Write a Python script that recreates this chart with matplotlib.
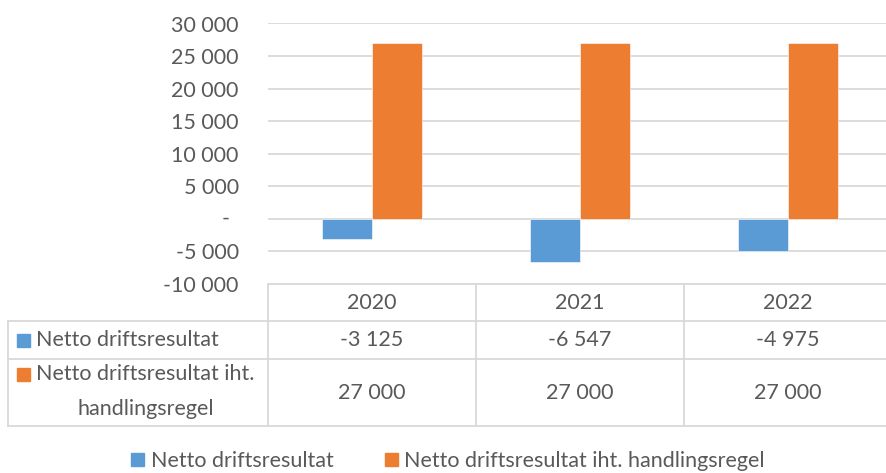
import numpy as np
import matplotlib.pyplot as plt
import matplotlib.transforms as mtransforms
from matplotlib.patches import Rectangle

years = ["2020", "2021", "2022"]
netto = [-3125, -6547, -4975]
netto_regel = [27000, 27000, 27000]
series_names = ["Netto driftsresultat", "Netto driftsresultat iht. handlingsregel"]
yticks = [-10000, -5000, 0, 5000, 10000, 15000, 20000, 25000, 30000]

BLUE = "#5B9BD5"
ORANGE = "#ED7D31"
GRID = "#D9D9D9"
TXT = "#595959"

plt.rcParams["font.family"] = ["Lato", "DejaVu Sans"]
FS = 15.5


def fmt(v):
    if v == 0:
        return "-"
    s = f"{abs(v):,}".replace(",", " ")
    return ("-" if v < 0 else "") + s


W, H = 886, 473
fig = plt.figure(figsize=(W / 100, H / 100), dpi=100)

# main plot area (pixel geometry of the original)
px_left, px_right, px_top, px_bot = 268, 892, 23.5, 284
ax = fig.add_axes([px_left / W, 1 - px_bot / H, (px_right - px_left) / W, (px_bot - px_top) / H])
x = np.arange(len(years))
bw = 0.24
ax.bar(x - bw / 2, netto, bw, color=BLUE, edgecolor="white", linewidth=0.4, zorder=3)
ax.bar(x + bw / 2, netto_regel, bw, color=ORANGE, edgecolor="white", linewidth=0.4, zorder=3)
ax.set_xlim(-0.5, 2.5)
ax.set_ylim(-10000, 30000)
ax.set_yticks(yticks)
ax.set_yticklabels([fmt(v) if v != 0 else "" for v in yticks])
ax.set_xticks([])
ax.grid(axis="y", color=GRID, linewidth=1.3, zorder=0)
ax.tick_params(axis="y", length=0, pad=21, labelsize=FS, labelcolor=TXT)
for s in ax.spines.values():
    s.set_visible(False)
# accounting-style dash for zero, set in from the other labels
zero_tr = ax.get_yaxis_transform() + mtransforms.ScaledTranslation(-38 / 100, 0, fig.dpi_scale_trans)
ax.text(0, 0, fmt(0), transform=zero_tr, ha="right", va="center", fontsize=FS, color=TXT)

# data table below
t_left = 8
tax = fig.add_axes([t_left / W, 1 - 426 / H, (px_right - t_left) / W, (426 - 284) / H])
cat_w = (px_right - px_left) / 3
x0 = -0.5 - (px_left - t_left) / cat_w
tax.set_xlim(x0, 2.5)
tax.set_ylim(142, 0)
tax.axis("off")
lk = dict(color=GRID, linewidth=1.3, clip_on=False)
tax.plot([-0.5, 2.5], [0, 0], **lk)
for xv in [-0.5, 0.5, 1.5]:
    tax.plot([xv, xv], [0, 142], **lk)
tax.plot([x0, x0], [37, 142], **lk)
for yv in [37, 75, 142]:
    tax.plot([x0, 2.5], [yv, yv], **lk)

for i, yr in enumerate(years):
    tax.text(i, 18.5, yr, ha="center", va="center", fontsize=FS, color=TXT)
    tax.text(i, 56, fmt(netto[i]), ha="center", va="center", fontsize=FS, color=TXT)
    tax.text(i, 108.5, fmt(netto_regel[i]), ha="center", va="center", fontsize=FS, color=TXT)

px = (2.5 - x0) / (px_right - t_left)  # data units per pixel
sq = 13
tax.add_patch(Rectangle((x0 + 9 * px, 56 - sq / 2), sq * px, sq, color=BLUE, clip_on=False))
tax.text(x0 + 28 * px, 56, series_names[0], ha="left", va="center", fontsize=FS, color=TXT)
tax.add_patch(Rectangle((x0 + 9 * px, 90 - sq / 2), sq * px, sq, color=ORANGE, clip_on=False))
tax.text(x0 + 28 * px, 90, "Netto driftsresultat iht.", ha="left", va="center", fontsize=FS, color=TXT)
tax.text(x0 + 138 * px, 125, "handlingsregel", ha="center", va="center", fontsize=FS, color=TXT)

# legend
handles = [Rectangle((0, 0), 1, 1, color=BLUE), Rectangle((0, 0), 1, 1, color=ORANGE)]
fig.legend(handles, series_names, loc="center", bbox_to_anchor=(448 / W, 1 - 461 / H),
           ncol=2, frameon=False, fontsize=FS, labelcolor=TXT, handlelength=0.6,
           handleheight=0.6, handletextpad=0.3, columnspacing=2.4)

fig.savefig("out.png", dpi=100)
